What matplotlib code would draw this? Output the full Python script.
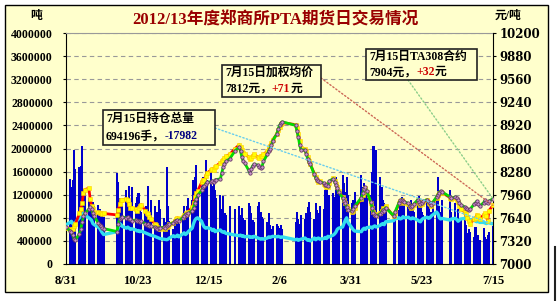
import numpy as np
import pandas as pd
import matplotlib
matplotlib.use('Agg')
import matplotlib.pyplot as plt
import matplotlib.dates as mdates
from matplotlib.patches import Rectangle, ConnectionPatch
from matplotlib.lines import Line2D
from matplotlib.ticker import FuncFormatter

plt.rcParams['font.family'] = ['Liberation Serif', 'Noto Sans CJK SC']
plt.rcParams['font.weight'] = 'bold'

# trading days of the 2012/13 season (exchange holidays removed)
holidays = ['2012-10-01', '2012-10-02', '2012-10-03', '2012-10-04', '2012-10-05',
            '2013-01-01', '2013-01-02', '2013-01-03',
            '2013-02-11', '2013-02-12', '2013-02-13', '2013-02-14', '2013-02-15',
            '2013-04-04', '2013-04-05', '2013-04-29', '2013-04-30', '2013-05-01',
            '2013-06-10', '2013-06-11', '2013-06-12']
dates = pd.bdate_range('2012-08-31', '2013-07-15', freq='C', holidays=holidays)

# daily volume (hands)
volume = np.array([
    1500,
    1470, 1330, 1450, 1980, 1650, 1680, 1700, 2050, 1300, 1250, 1150, 1100, 1050, 1070, 1000, 1020, 960, 760, 900, 820,
    1570, 1420, 1150, 1050, 1000, 1280, 1100, 1350, 1030, 1330, 1060, 1160, 1230, 1000, 900, 940, 1000, 1350,
    900, 1100, 1000, 850, 900, 1100, 950, 800, 720, 1680, 1000, 750, 600, 700, 650, 820, 700, 800, 1000, 900, 1000, 1150,
    1100, 1450, 1500, 1720, 1300, 1350, 1500, 1300, 1800, 1450, 1600, 1350, 1450, 1280, 1150, 1190, 950, 1180, 880, 850, 1000,
    960, 1000, 850, 970, 800, 760, 1060, 1000, 880, 760, 720, 1000, 1080, 900, 820, 780, 730, 880, 680, 600,
    650, 700, 650, 620, 680, 600, 720, 900, 780, 700, 850, 780, 880, 980, 1080,
    900, 780, 1060, 940, 880, 1000, 950, 1280, 1370, 1050, 1200, 1230, 1160, 1500, 1400, 1300, 1540, 1400, 1250, 1510, 1190,
    1050, 1100, 1250, 1540, 1330, 1400, 1300, 1150, 1200, 1600, 2050, 1950, 1980, 1500, 1330, 1100, 1050, 950,
    760, 800, 930, 1050, 1160, 1000, 1100, 1050, 950, 1100, 1000, 900, 1050, 1180, 1000, 900, 850, 1100, 1050, 800, 900, 1000,
    1100, 1510, 1000, 900, 1100, 1280, 900, 1060, 800, 950, 750, 760, 930, 680, 540, 600, 560,
    470, 640, 430, 500, 420, 620, 460, 430, 500, 550, 650]) * 1000

# total open interest (hands)
open_interest = np.array([
    680,
    720, 740, 700, 690, 720, 800, 840, 860, 880, 850, 800, 780, 760, 700, 680, 640, 620, 580, 540, 510,
    560, 640, 700, 680, 650, 620, 640, 620, 600, 610, 590, 570, 580, 560, 570, 540, 530, 520,
    510, 500, 480, 470, 460, 450, 440, 430, 425, 420, 430, 450, 490, 470, 480, 500, 470, 520, 540, 510, 530, 560,
    620, 700, 760, 790, 800, 740, 680, 640, 620, 630, 610, 580, 600, 560, 570, 590, 560, 550, 560, 530, 520,
    500, 490, 500, 480, 490, 470, 480, 460, 470, 460, 480, 450, 440, 430, 440, 430, 450, 470, 460, 470,
    480, 470, 480, 470, 460, 470, 420, 430, 410, 420, 430, 450, 430, 410, 420,
    400, 450, 420, 440, 450, 430, 440, 460, 440, 480, 470, 500, 520, 550, 600, 620, 640, 700, 760, 800, 720,
    620, 590, 570, 560, 600, 620, 600, 630, 640, 620, 650, 660, 640, 670, 690, 700, 680, 730,
    750, 780, 800, 780, 790, 820, 800, 810, 790, 780, 800, 790, 760, 740, 730, 770, 790, 810, 790, 800, 830, 850,
    900, 870, 800, 780, 790, 760, 780, 790, 770, 740, 760, 780, 790, 810, 820, 780, 760,
    770, 740, 730, 750, 720, 720, 710, 700, 720, 712.178, 694.196]) * 1000

# weighted average price (yuan/ton)
avg_price = [
    7500,
    7480, 7470, 7480, 7520, 7560, 7700, 7760, 7850, 7980, 8030, 8050, 7900, 7800, 7760, 7700, 7720, 7700, 7710, 7690, 7700,
    7680, 7750, 7830, 7880, 7890, 7900, 7880, 7830, 7780, 7770, 7760, 7740, 7780, 7800, 7820, 7740, 7700, 7690,
    7650, 7620, 7560, 7540, 7510, 7500, 7490, 7500, 7490, 7510, 7530, 7550, 7570, 7600, 7620, 7640, 7620, 7650, 7680, 7700, 7690, 7720,
    7790, 7850, 7930, 7990, 8010, 8130, 8170, 8160, 8220, 8260, 8300, 8320, 8300, 8340, 8360, 8400, 8420, 8440, 8470, 8490, 8520,
    8600, 8650, 8620, 8580, 8540, 8530, 8480, 8460, 8470, 8500, 8520, 8480, 8470, 8490, 8500, 8520, 8560, 8600, 8640, 8680,
    8720, 8800, 8850, 8900, 8940, 8960, 8930, 8880, 8800, 8700, 8610, 8590, 8560, 8480, 8420,
    8380, 8250, 8200, 8160, 8140, 8150, 8110, 8090, 8070, 8060, 8120, 8190, 8150, 8110, 8060, 8010, 7930, 7880, 7850, 7800, 7760,
    7720, 7740, 7780, 7900, 7960, 8030, 8050, 8000, 7850, 7770, 7720, 7690, 7680, 7700, 7740, 7770, 7760, 7800,
    7660, 7700, 7840, 7870, 7880, 7860, 7850, 7830, 7800, 7780, 7790, 7820, 7880, 7850, 7820, 7830, 7860, 7880, 7850, 7830, 7810, 7840,
    7920, 7950, 7980, 8000, 7990, 7920, 7900, 7910, 7890, 7860, 7800, 7760, 7720, 7690, 7640, 7600, 7560,
    7620, 7640, 7680, 7660, 7620, 7680, 7700, 7660, 7600, 7741, 7812]

# TA308 contract price (yuan/ton)
ta308 = [
    7510,
    7460, 7440, 7400, 7350, 7330, 7420, 7480, 7580, 7660, 7700, 7760, 7790, 7760, 7700, 7660, 7570, 7540, 7520, 7500, 7490,
    7450, 7560, 7630, 7640, 7650, 7640, 7650, 7630, 7620, 7600, 7610, 7590, 7600, 7580, 7590, 7560, 7540, 7550,
    7530, 7520, 7510, 7500, 7490, 7500, 7500, 7510, 7500, 7520, 7540, 7550, 7570, 7590, 7600, 7610, 7600, 7640, 7670, 7690, 7680, 7700,
    7740, 7780, 7850, 7900, 7950, 8020, 8060, 8080, 8110, 8130, 8140, 8150, 8140, 8160, 8170, 8180, 8260, 8340, 8380, 8420, 8460,
    8570, 8620, 8560, 8480, 8420, 8400, 8300, 8260, 8320, 8360, 8380, 8370, 8340, 8330, 8350, 8420, 8520, 8570, 8600, 8650,
    8710, 8800, 8870, 8920, 8950, 8970, 8920, 8840, 8760, 8650, 8580, 8580, 8520, 8460, 8410,
    8380, 8240, 8190, 8160, 8150, 8140, 8120, 8100, 8090, 8080, 8150, 8180, 8140, 8100, 8050, 8000, 7920, 7870, 7840, 7790, 7750,
    7730, 7760, 7800, 7920, 7980, 8040, 8060, 8010, 7860, 7780, 7710, 7680, 7670, 7690, 7720, 7750, 7740, 7780,
    7670, 7720, 7850, 7880, 7890, 7870, 7860, 7840, 7810, 7790, 7800, 7830, 7890, 7860, 7830, 7840, 7870, 7890, 7860, 7840, 7820, 7850,
    7930, 7960, 7990, 8010, 8000, 7930, 7910, 7930, 7910, 7890, 7850, 7820, 7790, 7770, 7760, 7750, 7760,
    7830, 7850, 7870, 7830, 7800, 7850, 7880, 7860, 7840, 7872, 7904]

tick_dates = pd.to_datetime(['2012-08-31', '2012-10-23', '2012-12-15', '2013-02-06',
                             '2013-03-31', '2013-05-23', '2013-07-15'])
tick_labels = ['8/31', '10/23', '12/15', '2/6', '3/31', '5/23', '7/15']

W, H = 558, 301
fig = plt.figure(figsize=(W / 100, H / 100), dpi=100)
fig.patch.set_facecolor('white')


def fx(x):
    return x / W


def fy(y):
    return 1 - y / H


fig.add_artist(Rectangle((fx(5), fy(292)), fx(548) - fx(5), fy(5) - fy(292),
                         transform=fig.transFigure, facecolor='#FFFFCC',
                         edgecolor='black', lw=1, zorder=-1))
fig.add_artist(Line2D([fx(555), fx(555)], [fy(247), fy(301)], transform=fig.transFigure,
                      color='#222222', lw=1.5))

ax = fig.add_axes([fx(66), fy(264), fx(493) - fx(66), fy(33) - fy(264)])
ax.set_facecolor('#FFFFCC')
ax.bar(dates, volume, width=1.6, color='#0000CC', lw=0, zorder=2)
ax.plot(dates, open_interest, color='#33DDEE', lw=2.4, zorder=3)
ax.set_xlim(dates[0], dates[-1])
ax.set_ylim(0, 4000000)
ax.set_yticks(np.arange(0, 4000001, 400000))
ax.yaxis.set_major_formatter(FuncFormatter(lambda v, p: f'{v:.0f}'))
ax.grid(axis='y', color='#999999', ls=(0, (4, 3)), lw=0.8)
ax.set_axisbelow(True)
ax.set_xticks(tick_dates)
ax.set_xticklabels(tick_labels)
ax.tick_params(axis='x', length=0, pad=8, labelsize=9)
ax.tick_params(axis='y', direction='out', length=2.5, width=0.8, pad=7, labelsize=8.5)
ax.spines['top'].set_color('#999999')
ax.spines['right'].set_visible(False)

ax2 = ax.twinx()
ax2.plot(dates, avg_price, color='#FF0000', lw=2.0, marker='s', ms=2.3,
         mfc='#FFFF00', mec='#FFCC00', mew=0.4, zorder=3)
ax2.plot(dates, ta308, color='#00DD00', lw=2.0, marker='o', ms=2.4,
         mfc='#CC99CC', mec='#663366', mew=0.6, zorder=4)
ax2.set_ylim(7000, 10200)
ax2.set_yticks(np.arange(7000, 10201, 320))
ax2.tick_params(axis='y', direction='out', length=2.5, width=0.8, pad=2, labelsize=8.5)
for s in ['top', 'left', 'bottom']:
    ax2.spines[s].set_visible(False)
plt.setp(ax2.get_yticklabels(), family='DejaVu Serif')

fig.text(fx(275), fy(20), '2012/13年度郑商所PTA期货日交易情况', ha='center', va='center',
         color='#990000', fontsize=12)
fig.text(fx(36), fy(16), '吨', ha='center', va='center', fontsize=8.5)
fig.text(fx(508), fy(16), '元/吨', ha='center', va='center', fontsize=8.5)

renderer = fig.canvas.get_renderer()


def note(x0, y0, x1, y1, line1, parts):
    fig.add_artist(Rectangle((fx(x0), fy(y1)), fx(x1) - fx(x0), fy(y0) - fy(y1),
                             transform=fig.transFigure, facecolor='#FFFFCC',
                             edgecolor='#222222', lw=1.2, zorder=5))
    h = (y1 - y0) / 4
    fig.text(fx(x0 + 3), fy(y0 + h), line1, ha='left', va='center', fontsize=8.5, zorder=6)
    x = x0 + 3
    for s, c in parts:
        t = fig.text(fx(x), fy(y0 + 3 * h), s, color=c, ha='left', va='center',
                     fontsize=8.5, zorder=6)
        x = t.get_window_extent(renderer).x1


last = mdates.date2num(dates[-1])
fig.add_artist(ConnectionPatch((fx(215), fy(128)), (last, open_interest[-1]),
                               coordsA=fig.transFigure, coordsB=ax.transData,
                               color='#66CCEE', ls=':', lw=1, zorder=4))
fig.add_artist(ConnectionPatch((fx(321), fy(78)), (last, avg_price[-1]),
                               coordsA=fig.transFigure, coordsB=ax2.transData,
                               color='#CC6655', ls=':', lw=1, zorder=4))
fig.add_artist(ConnectionPatch((fx(408), fy(80)), (last, ta308[-1]),
                               coordsA=fig.transFigure, coordsB=ax2.transData,
                               color='#88CC88', ls=':', lw=1, zorder=4))

note(103, 110, 215, 145, '7月15日持仓总量',
     [('694196手，', 'black'), ('-17982', '#000080')])
note(222, 65, 321, 97, '7月15日加权均价',
     [('7812元，', 'black'), ('+71', '#CC0000'), ('元', 'black')])
note(366, 49, 477, 80, '7月15日TA308合约',
     [('7904元，', 'black'), ('+32', '#CC0000'), ('元', 'black')])

fig.savefig('out.png', dpi=100, facecolor='white')
